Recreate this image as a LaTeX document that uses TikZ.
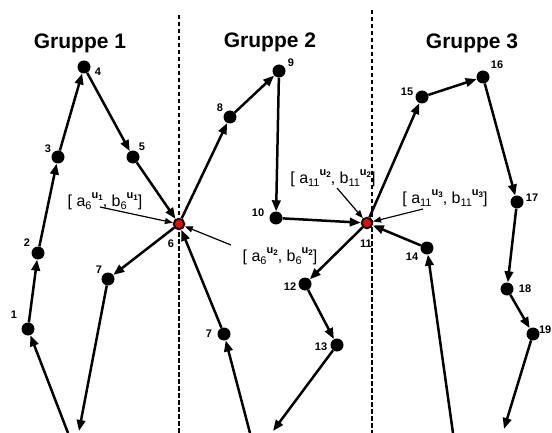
\documentclass[tikz,border=0pt]{standalone}
\usepackage{fontspec}
\setmainfont{Liberation Sans}
\usetikzlibrary{arrows.meta}
\newcommand\sbsp[3]{#1\raisebox{-0.35ex}{\fontsize{11}{11}\selectfont #2}\raisebox{1.0ex}{\fontsize{11}{11}\selectfont\bfseries u\raisebox{-0.4ex}{\fontsize{8}{8}\selectfont #3}}}
\tikzset{
  dot/.style={circle, fill=black, inner sep=0pt, minimum size=13pt},
  reddot/.style={circle, fill=red, draw=black, line width=2pt, inner sep=0pt, minimum size=10.5pt},
  num/.style={font=\fontsize{11}{11}\selectfont\bfseries, inner sep=0pt},
  conn/.style={line width=2.5pt, -{Triangle[length=11pt,width=8.5pt]}},
  thinarr/.style={line width=1.2pt, -{Triangle[length=8pt,width=6pt]}},
  sepline/.style={line width=2.2pt, dash pattern=on 4.5pt off 2.5pt},
  title/.style={font=\fontsize{21}{21}\selectfont\bfseries, inner sep=0pt},
  ann/.style={font=\fontsize{16}{16}\selectfont, inner sep=0pt}
}
\begin{document}
\begin{tikzpicture}[x=1pt,y=-1pt]
\useasboundingbox[fill=white] (0,0) rectangle (552,433);
% separators
\draw[sepline] (179,15) -- (179,433);
\draw[sepline] (372,10) -- (372,433);
% titles
\node[title] (t1) at (80,43) {Gruppe 1};
\node[title] (t2) at (270,42) {Gruppe 2};
\node[title] (t3) at (472,43) {Gruppe 3};
% nodes
\node[dot] (n1) at (28,329) {};
\node[dot] (n2) at (38,253) {};
\node[dot] (n3) at (58,157) {};
\node[dot] (n4) at (84,67) {};
\node[dot] (n5) at (133,157) {};
\node[reddot] (n6) at (179,224) {};
\node[dot] (n7a) at (108,279) {};
\node[dot] (n8) at (230,117) {};
\node[dot] (n9) at (279,71) {};
\node[dot] (n10) at (276,218) {};
\node[reddot] (n11) at (367,223) {};
\node[dot] (n12) at (305,284) {};
\node[dot] (n13) at (337,345) {};
\node[dot] (n7b) at (224,334) {};
\node[dot] (n14) at (427,248) {};
\node[dot] (n15) at (422,97) {};
\node[dot] (n16) at (483,77) {};
\node[dot] (n17) at (517,202) {};
\node[dot] (n18) at (507,289) {};
\node[dot] (n19) at (533,334) {};
% free ends
\coordinate (s1) at (68,433);
\coordinate (e7) at (79,431);
\coordinate (s7) at (250,433);
\coordinate (e13) at (273,431);
\coordinate (s14) at (453,433);
\coordinate (e19) at (504,429);
% number labels
\node[num] (l1) at (14,315) {1};
\node[num] (l2) at (27,243) {2};
\node[num] (l3) at (48,149) {3};
\node[num] (l4) at (98,72) {4};
\node[num] (l5) at (142,147) {5};
\node[num] (l6) at (171,244) {6};
\node[num] (l7a) at (99,270) {7};
\node[num] (l8) at (220,108) {8};
\node[num] (l9) at (291,63) {9};
\node[num] (l10) at (258,213) {10};
\node[num] (l11) at (366,244) {11};
\node[num] (l12) at (290,287) {12};
\node[num] (l13) at (321,347) {13};
\node[num] (l7b) at (209,334) {7};
\node[num] (l14) at (412,257) {14};
\node[num] (l15) at (407,92) {15};
\node[num] (l16) at (497,65) {16};
\node[num] (l17) at (532,198) {17};
\node[num] (l18) at (525,289) {18};
\node[num,anchor=east] (l19) at (551.5,330) {19};
% connectors
\draw[conn] (s1) -- (n1);
\draw[conn] (n1) -- (n2);
\draw[conn] (n2) -- (n3);
\draw[conn] (n3) -- (n4);
\draw[conn] (n4) -- (n5);
\draw[conn] (n5) -- (n6);
\draw[conn] (n6) -- (n7a);
\draw[conn] (n7a) -- (e7);
\draw[conn] (s7) -- (n7b);
\draw[conn] (n7b) -- (n6);
\draw[conn] (n6) -- (n8);
\draw[conn] (n8) -- (n9);
\draw[conn] (n9) -- (n10);
\draw[conn] (n10) -- (n11);
\draw[conn] (n11) -- (n12);
\draw[conn] (n12) -- (n13);
\draw[conn] (n13) -- (e13);
\draw[conn] (s14) -- (n14);
\draw[conn] (n14) -- (n11);
\draw[conn] (n11) -- (n15);
\draw[conn] (n15) -- (n16);
\draw[conn] (n16) -- (n17);
\draw[conn] (n17) -- (n18);
\draw[conn] (n18) -- (n19);
\draw[conn] (n19) -- (e19);
% annotations
\node[ann] (a1) at (105,201) {[ \sbsp{a}{6}{1}, \sbsp{b}{6}{1}]};
\node[ann] (a2) at (280,256) {[ \sbsp{a}{6}{2}, \sbsp{b}{6}{2}]};
\node[ann] (a3) at (333,178) {[ \sbsp{a}{11}{2}, \sbsp{b}{11}{2}]};
\node[ann] (a4) at (445,198) {[ \sbsp{a}{11}{3}, \sbsp{b}{11}{3}]};
\coordinate (p1) at (100,207);
\coordinate (p2) at (231,245);
\coordinate (p3) at (337,188);
\coordinate (p4) at (423,209);
\draw[thinarr] (p1) -- (n6);
\draw[thinarr] (p2) -- (n6);
\draw[thinarr] (p3) -- (n11);
\draw[thinarr] (p4) -- (n11);
\end{tikzpicture}
\end{document}
